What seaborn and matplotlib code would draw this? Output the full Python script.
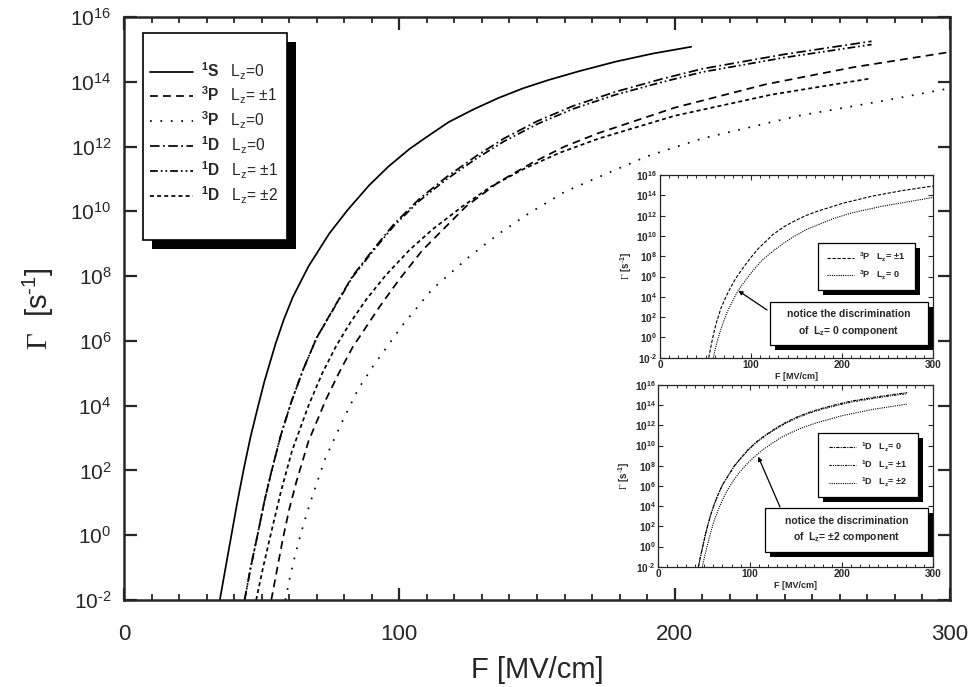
import numpy as np
import matplotlib
matplotlib.use("Agg")
import matplotlib.pyplot as plt
import seaborn as sns
from matplotlib.patches import Rectangle
from matplotlib.ticker import FixedLocator, MultipleLocator, NullLocator

# field F [MV/cm] and log10 of the ionization rate Gamma [1/s]
f_1s = [34.8, 37, 39, 41, 43.5, 46, 48.6, 51, 55, 58, 61.3, 67, 74.6, 81.2, 89, 96, 103.6, 110, 118,
        127, 136, 145, 154, 165, 178.5, 192, 206]
lg_1s = [-2, -0.95, 0, 0.95, 2.05, 3.05, 3.95, 4.75, 5.9, 6.65, 7.35, 8.3, 9.32, 10.04, 10.8, 11.38, 11.92,
         12.3, 12.76, 13.15, 13.5, 13.8, 14.05, 14.32, 14.62, 14.87, 15.08]

f_3p1 = [53.5, 55.5, 57.6, 60, 62.6, 67, 73.4, 78, 83, 92.8, 100, 108.4, 124.2, 136, 148.3, 160, 172.5,
         200, 233, 265, 300]
lg_3p1 = [-2, -1.1, -0.15, 0.8, 1.65, 2.9, 4.2, 5.0, 5.8, 7.05, 7.9, 8.8, 10.15, 10.9, 11.5, 12.0, 12.42,
          13.2, 13.92, 14.45, 14.92]

f_3p0 = [58.6, 60.5, 62.5, 64.4, 66.5, 68.6, 73, 79.5, 85, 90.3, 101.2, 112, 125.4, 136, 147.1, 160,
         174.9, 190, 210, 245, 275, 300]
lg_3p0 = [-2, -1.2, -0.5, 0.1, 0.7, 1.25, 2.35, 3.55, 4.5, 5.2, 6.49, 7.6, 8.6, 9.3, 9.94, 10.6,
          11.15, 11.7, 12.25, 12.95, 13.4, 13.8]

f_1d = [43.8, 46, 48.6, 51, 53.5, 57, 60.7, 65, 70, 77.1, 83, 90.3, 98, 107.2, 117, 127.8, 138, 150,
        163, 178.5, 195, 210, 240, 271.5]
lg_1d0 = [-2, -1.0, 0.05, 1.05, 1.95, 3.1, 4.1, 5.1, 6.1, 7.15, 8.0, 8.8, 9.6, 10.38, 11.05, 11.7, 12.25,
          12.78, 13.25, 13.69, 14.08, 14.4, 14.85, 15.25]
lg_1d1 = [-2, -1.0, 0.05, 1.05, 1.95, 3.1, 4.1, 5.1, 6.1, 7.13, 7.97, 8.76, 9.55, 10.32, 10.98, 11.62,
          12.16, 12.69, 13.16, 13.6, 13.98, 14.3, 14.75, 15.15]

f_1d2 = [48, 50.5, 53.5, 57, 61, 67, 72, 77.1, 82, 88, 95, 103.6, 112, 122.9, 133, 145, 158, 172.5,
         200, 235, 271]
lg_1d2 = [-2, -1.0, 0.1, 1.35, 2.6, 4.0, 5.0, 5.85, 6.54, 7.28, 8.02, 8.8, 9.44, 10.15, 10.75, 11.3,
          11.8, 12.25, 12.95, 13.6, 14.1]

y_exps = list(range(-2, 17, 2))
x_major = [0, 100, 200, 300]

sns.set_style("ticks")
plt.rcParams['font.family'] = ['Liberation Sans', 'DejaVu Sans']
plt.rcParams['mathtext.fontset'] = 'custom'
plt.rcParams['mathtext.rm'] = 'Liberation Sans'
plt.rcParams['mathtext.bf'] = 'Liberation Sans:bold'
plt.rcParams['mathtext.it'] = 'Liberation Sans:italic'
plt.rcParams['mathtext.tt'] = 'Liberation Serif'
plt.rcParams['mathtext.default'] = 'rm'
plt.rcParams['axes.unicode_minus'] = False

W, H = 975, 687
fig = plt.figure(figsize=(9.75, 6.87), dpi=100)


def fx(px):
    return px / W


def fy(py):
    return 1 - py / H


def shadow_box(axis, x0, y0, x1, y1, d, lw):
    # white framed box with a solid black drop shadow, pixel coords of the picture
    axis.add_patch(Rectangle((fx(x0 + d), fy(y1 + d)), fx(x1) - fx(x0), fy(y0) - fy(y1),
                             transform=fig.transFigure, fc='black', ec='none',
                             zorder=4.5, clip_on=False))
    axis.add_patch(Rectangle((fx(x0), fy(y1)), fx(x1) - fx(x0), fy(y0) - fy(y1),
                             transform=fig.transFigure, fc='white', ec='black', lw=lw,
                             zorder=4.6, clip_on=False))


def plot_curve(axis, f, lg, label, ls, lw):
    sns.lineplot(x=f, y=10.0 ** np.array(lg), ax=axis, color='black', lw=lw,
                 linestyle=ls, label=label, estimator=None, sort=False)


def exp_label(e, bold=False):
    s = r"\text{-}" + str(-e) if e < 0 else str(e)
    if bold:
        return r"$\mathbf{10}^{\mathbf{" + s + "}}$"
    return "10$^{" + s + "}$"


ls_1s = '-'
ls_3p1 = (0, (4.5, 3))
ls_3p0 = (0, (1, 5))
ls_1d0 = (0, (5.5, 2, 1, 2))
ls_1d1 = (0, (4.5, 1.7, 1, 1.7, 1, 1.7))
ls_1d2 = (0, (2.3, 1.8))

lab_1s = r"${}^{\mathbf{1}}\mathbf{S}$   L$_\mathrm{z}$=0"
lab_3p1 = r"${}^{\mathbf{3}}\mathbf{P}$   L$_\mathrm{z}$= ±1"
lab_3p0 = r"${}^{\mathbf{3}}\mathbf{P}$   L$_\mathrm{z}$=0"
lab_1d0 = r"${}^{\mathbf{1}}\mathbf{D}$   L$_\mathrm{z}$=0"
lab_1d1 = r"${}^{\mathbf{1}}\mathbf{D}$   L$_\mathrm{z}$= ±1"
lab_1d2 = r"${}^{\mathbf{1}}\mathbf{D}$   L$_\mathrm{z}$= ±2"

# ---------------- main panel
ax = fig.add_axes([fx(124), fy(600), fx(950) - fx(124), fy(17) - fy(600)])
ax.set_yscale('log')
plot_curve(ax, f_1s, lg_1s, lab_1s, ls_1s, 1.25)
plot_curve(ax, f_3p1, lg_3p1, lab_3p1, ls_3p1, 1.25)
plot_curve(ax, f_3p0, lg_3p0, lab_3p0, ls_3p0, 1.25)
plot_curve(ax, f_1d, lg_1d0, lab_1d0, ls_1d0, 1.25)
plot_curve(ax, f_1d, lg_1d1, lab_1d1, ls_1d1, 1.25)
plot_curve(ax, f_1d2, lg_1d2, lab_1d2, ls_1d2, 1.25)

ax.set_xlim(0, 300)
ax.set_ylim(1e-2, 1e16)
ax.xaxis.set_major_locator(FixedLocator(x_major))
ax.xaxis.set_minor_locator(MultipleLocator(10))
ax.yaxis.set_major_locator(FixedLocator([10.0 ** e for e in y_exps]))
ax.yaxis.set_minor_locator(NullLocator())
ax.set_yticklabels([exp_label(e) for e in y_exps])
ax.tick_params(which='major', direction='in', length=9, width=1.6, top=True, right=True,
               labelsize=15, pad=9)
ax.tick_params(axis='x', which='major', labelsize=16, pad=17)
ax.tick_params(which='minor', direction='in', length=4.5, width=1.3, top=True, right=True)
for s in ax.spines.values():
    s.set_linewidth(1.8)
ax.set_xlabel("F [MV/cm]", fontsize=21, labelpad=8)
ax.set_ylabel(r"$\mathtt{\Gamma}$  [s$^{\text{-}1}$]", fontsize=21, labelpad=10)

shadow_box(ax, 143, 33, 287, 240, 9, 1.2)
h, l = ax.get_legend_handles_labels()
leg = ax.legend(h, l, loc='center', bbox_to_anchor=(fx(214), fy(133)), bbox_transform=fig.transFigure,
                frameon=False, fontsize=11.2, handlelength=2.8, handletextpad=0.5, labelspacing=0.22)
leg.set_zorder(6)

# ---------------- inset 1 : 3P
ax1 = fig.add_axes([fx(660), fy(357.7), fx(933.3) - fx(660), fy(175) - fy(357.7)])
ax1.set_yscale('log')
plot_curve(ax1, f_3p1, lg_3p1, r"${}^{\mathbf{3}}\mathbf{P}$   L$_\mathbf{z}$= ±1", (0, (3, 1.5)), 0.8)
plot_curve(ax1, f_3p0, lg_3p0, r"${}^{\mathbf{3}}\mathbf{P}$   L$_\mathbf{z}$= 0", (0, (1, 1)), 0.8)

# ---------------- inset 2 : 1D
ax2 = fig.add_axes([fx(658.3), fy(566.7), fx(933.3) - fx(658.3), fy(385) - fy(566.7)])
ax2.set_yscale('log')
plot_curve(ax2, f_1d, lg_1d0, r"${}^{\mathbf{1}}\mathbf{D}$   L$_\mathbf{z}$= 0", (0, (3, 1, 1, 1)), 0.8)
plot_curve(ax2, f_1d, lg_1d1, r"${}^{\mathbf{1}}\mathbf{D}$   L$_\mathbf{z}$= ±1", (0, (2, 1, 1, 1, 1, 1)), 0.8)
plot_curve(ax2, f_1d2, lg_1d2, r"${}^{\mathbf{1}}\mathbf{D}$   L$_\mathbf{z}$= ±2", (0, (1, 1)), 0.8)

for a in (ax1, ax2):
    a.set_xlim(0, 300)
    a.set_ylim(1e-2, 1e16)
    a.xaxis.set_major_locator(FixedLocator(x_major))
    a.xaxis.set_minor_locator(MultipleLocator(10))
    a.yaxis.set_major_locator(FixedLocator([10.0 ** e for e in y_exps]))
    a.yaxis.set_minor_locator(NullLocator())
    a.set_yticklabels([exp_label(e, bold=True) for e in y_exps])
    a.set_xticklabels([str(v) for v in x_major], fontweight='bold')
    a.tick_params(which='major', direction='in', length=3.5, width=0.8, top=True, right=True,
                  labelsize=7.2, pad=2)
    a.tick_params(which='minor', direction='in', length=2, width=0.7, top=True, right=True)
    for s in a.spines.values():
        s.set_linewidth(0.9)
    a.set_xlabel("F [MV/cm]", fontsize=6.5, fontweight='bold', labelpad=1)
    a.set_ylabel(r"$\mathtt{\Gamma}$ [s$^{\mathbf{\text{-}1}}$]", fontsize=7, fontweight='bold', labelpad=2)

# inset legends and notes
shadow_box(ax1, 818, 243, 915, 290, 5, 0.9)
h, l = ax1.get_legend_handles_labels()
lg1 = ax1.legend(h, l, loc='center', bbox_to_anchor=(fx(866), fy(266.5)), bbox_transform=fig.transFigure,
                 frameon=False, prop={'size': 6.5, 'weight': 'bold'}, handlelength=3.0,
                 handletextpad=0.5, labelspacing=0.5)
lg1.set_zorder(6)
shadow_box(ax1, 770, 302, 928, 345, 5, 0.9)
ax1.text(fx(849), fy(323.5), "notice the discrimination\nof  L$_\\mathbf{z}$= 0 component",
         transform=fig.transFigure, ha='center', va='center', fontsize=7.5, fontweight='bold',
         linespacing=1.5, zorder=6)
ax1.annotate("", xy=(86, 10 ** 4.6), xycoords='data', xytext=(fx(767), fy(310)),
             textcoords='figure fraction',
             arrowprops=dict(arrowstyle='-|>', color='black', lw=0.9, mutation_scale=6,
                             shrinkA=0, shrinkB=0), zorder=6)

shadow_box(ax2, 818, 433, 918, 497, 5, 0.9)
h, l = ax2.get_legend_handles_labels()
lg2 = ax2.legend(h, l, loc='center', bbox_to_anchor=(fx(868), fy(465)), bbox_transform=fig.transFigure,
                 frameon=False, prop={'size': 6.5, 'weight': 'bold'}, handlelength=3.0,
                 handletextpad=0.5, labelspacing=0.5)
lg2.set_zorder(6)
shadow_box(ax2, 765, 508, 928, 552, 5, 0.9)
ax2.text(fx(846.5), fy(530), "notice the discrimination\nof  L$_\\mathbf{z}$= ±2 component",
         transform=fig.transFigure, ha='center', va='center', fontsize=7.5, fontweight='bold',
         linespacing=1.5, zorder=6)
ax2.annotate("", xy=(109, 10 ** 8.9), xycoords='data', xytext=(fx(780), fy(507)),
             textcoords='figure fraction',
             arrowprops=dict(arrowstyle='-|>', color='black', lw=0.9, mutation_scale=6,
                             shrinkA=0, shrinkB=0), zorder=6)

fig.savefig("out.png", dpi=100)
